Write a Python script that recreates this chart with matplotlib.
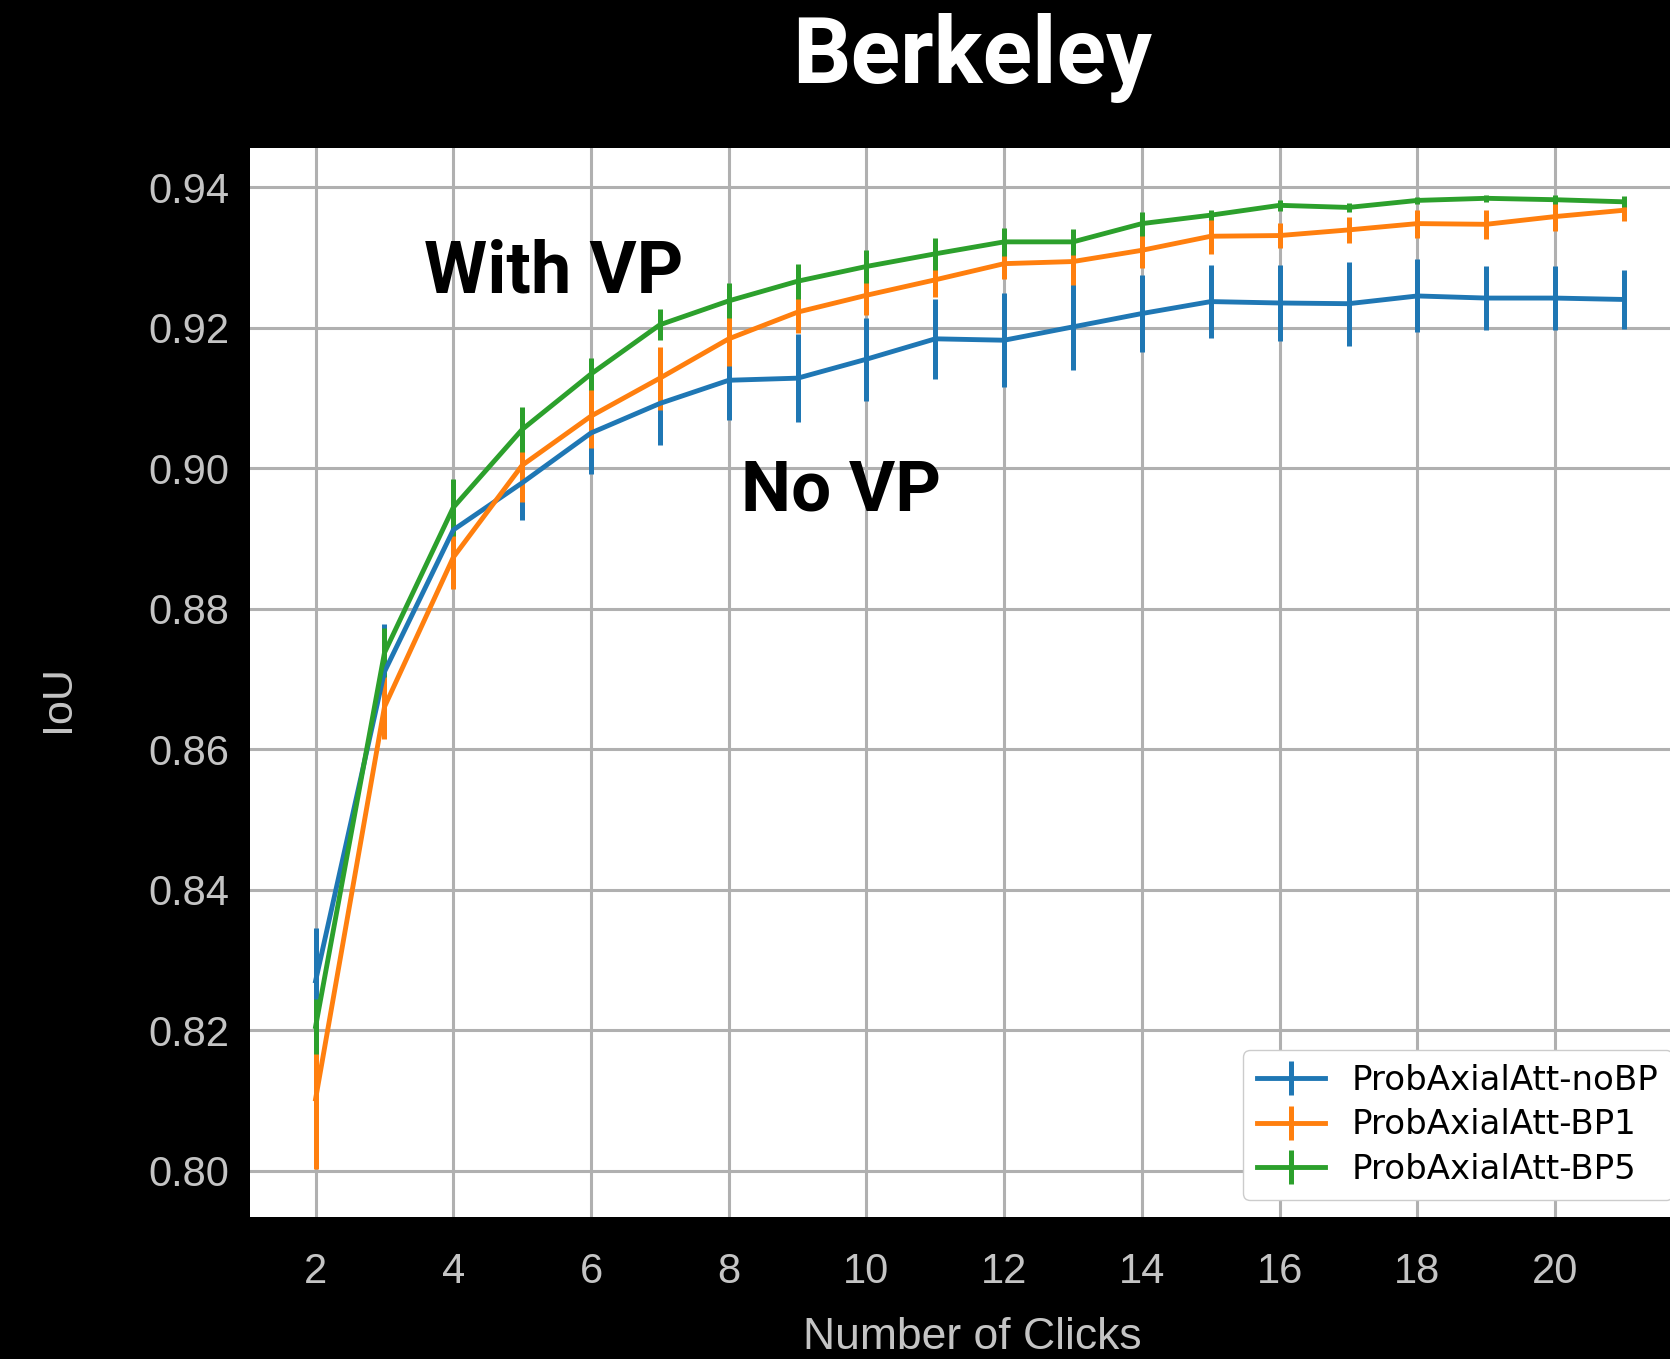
import numpy as np
import matplotlib
matplotlib.use("Agg")
import matplotlib.pyplot as plt

# number of clicks
clicks = np.arange(2, 22)

# mean IoU and error per click
nobp_mean = [0.8270, 0.8710, 0.8912, 0.8979, 0.9050, 0.9092, 0.9125, 0.9128, 0.9155, 0.9184,
             0.9182, 0.9201, 0.9220, 0.9237, 0.9235, 0.9234, 0.9245, 0.9242, 0.9242, 0.9240]
nobp_err = [0.0076, 0.0068, 0.0045, 0.0053, 0.0059, 0.0059, 0.0056, 0.0063, 0.0059, 0.0057,
            0.0067, 0.0061, 0.0055, 0.0052, 0.0054, 0.0060, 0.0052, 0.0046, 0.0045, 0.0042]

bp1_mean = [0.8102, 0.8660, 0.8873, 0.9004, 0.9074, 0.9128, 0.9184, 0.9222, 0.9246, 0.9268,
            0.9291, 0.9294, 0.9310, 0.9330, 0.9331, 0.9339, 0.9348, 0.9347, 0.9358, 0.9367]
bp1_err = [0.0100, 0.0046, 0.0045, 0.0052, 0.0045, 0.0045, 0.0038, 0.0030, 0.0028, 0.0025,
           0.0022, 0.0034, 0.0025, 0.0025, 0.0018, 0.0019, 0.0020, 0.0021, 0.0020, 0.0015]

bp5_mean = [0.8205, 0.8737, 0.8944, 0.9055, 0.9134, 0.9204, 0.9238, 0.9266, 0.9287, 0.9305,
            0.9322, 0.9322, 0.9348, 0.9360, 0.9374, 0.9371, 0.9381, 0.9384, 0.9382, 0.9379]
bp5_err = [0.0039, 0.0035, 0.0041, 0.0032, 0.0023, 0.0022, 0.0025, 0.0025, 0.0024, 0.0023,
           0.0020, 0.0018, 0.0017, 0.0007, 0.0008, 0.0006, 0.0005, 0.0005, 0.0006, 0.0008]

labels = ["ProbAxialAtt-noBP", "ProbAxialAtt-BP1", "ProbAxialAtt-BP5"]
colors = ["#1f77b4", "#ff7f0e", "#2ca02c"]

xticks = np.arange(2, 21, 2)
yticks = np.arange(0.80, 0.941, 0.02)

tick_color = "#c4c4c4"

fig = plt.figure(figsize=(16.7, 13.59), dpi=100, facecolor="black")
# axes runs a bit past the right edge of the picture, as in the original
ax = fig.add_axes([0.1498, 0.1045, 0.8618, 0.7868])
ax.set_facecolor("white")

series = [(nobp_mean, nobp_err), (bp1_mean, bp1_err), (bp5_mean, bp5_err)]
for (m, e), lab, c in zip(series, labels, colors):
    ax.errorbar(clicks, m, yerr=e, color=c, lw=3.5, elinewidth=3.6, capsize=0, label=lab)

ax.set_xlim(1.05, 21.95)
ax.set_ylim(0.7934, 0.9456)
ax.set_xticks(xticks)
ax.set_yticks(yticks)
ax.set_yticklabels([f"{v:.2f}" for v in yticks])
ax.grid(True, color="#b0b0b0", lw=2.2)
ax.set_axisbelow(True)
for s in ax.spines.values():
    s.set_visible(False)
ax.tick_params(axis="both", length=0, labelsize=30, colors=tick_color)
ax.tick_params(axis="x", pad=25)
ax.tick_params(axis="y", pad=15)
for t in ax.get_xticklabels() + ax.get_yticklabels():
    t.set_family("Liberation Sans")

ax.set_xlabel("Number of Clicks", fontsize=32, color=tick_color, family="Liberation Sans",
              va="center", ha="center")
ax.xaxis.set_label_coords((972 - 250.2) / 1439.2, (1217 - 1338) / 1069.3)
ax.set_ylabel("IoU", fontsize=31, color=tick_color, family="Liberation Sans",
              va="center", ha="center")
ax.yaxis.set_label_coords((58 - 250.2) / 1439.2, (1217 - 698) / 1069.3)

ax.text(3.574, 0.92502, "With VP", fontsize=52, fontweight="bold", family="Roboto",
        color="black", ha="left", va="baseline")
ax.text(8.178, 0.89395, "No VP", fontsize=51, fontweight="bold", family="Roboto",
        color="black", ha="left", va="baseline")

fig.text(0.582, 1 - 82.7 / 1359, "Berkeley", fontsize=66, fontweight="bold", family="Roboto",
         color="white", ha="center", va="baseline")

leg = ax.legend(loc="lower right", fontsize=24.5, framealpha=1.0, labelspacing=0.35,
                handlelength=2.0)

fig.savefig("out.png", dpi=100, facecolor="black")
